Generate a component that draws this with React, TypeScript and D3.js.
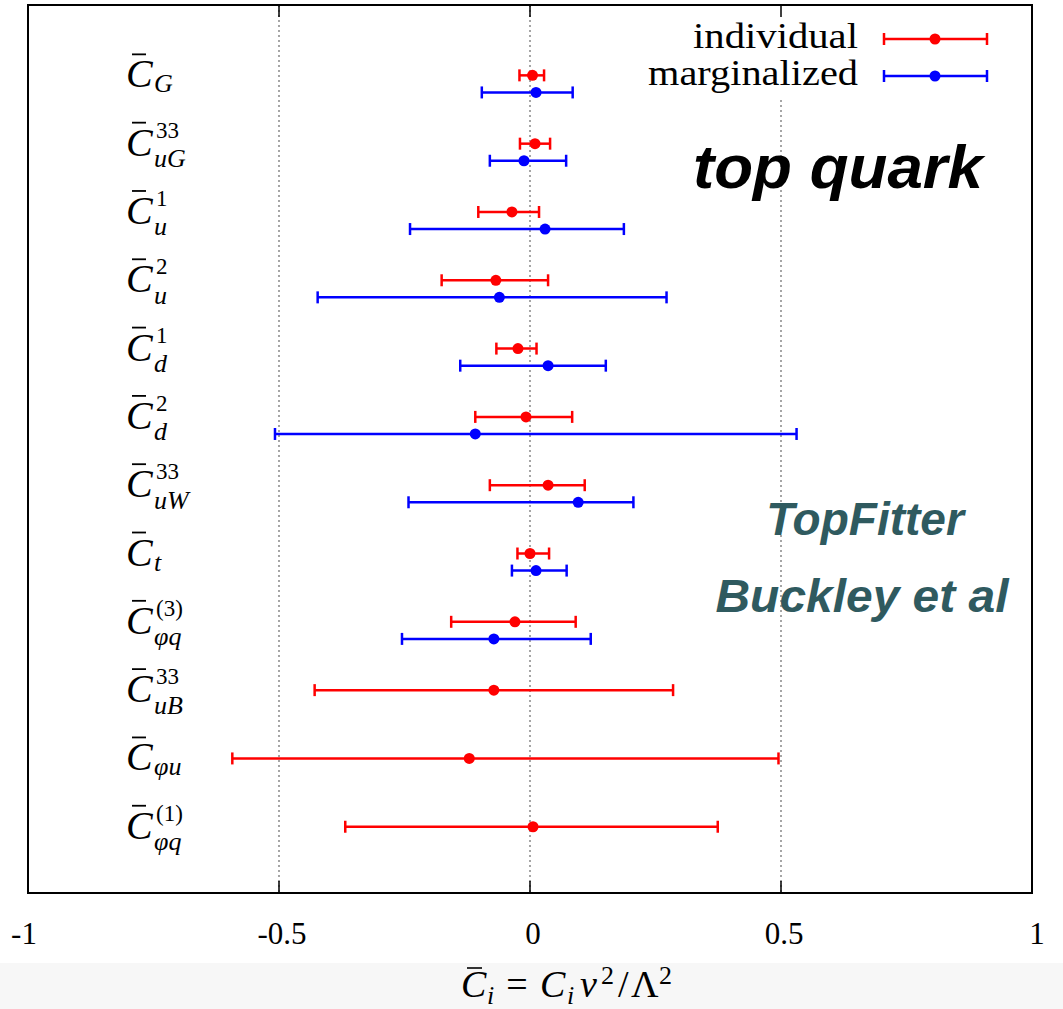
import React from "react";
import * as d3 from "d3";

const W = 1063;
const H = 1009;

// coefficient labels (top to bottom)
const labelSub = ["G", "uG", "u", "u", "d", "d", "uW", "t", "φq", "uB", "φu", "φq"];
const labelSup = ["", "33", "1", "2", "1", "2", "33", "", "(3)", "33", "", "(1)"];

// individual fits
const indivCenter = [0.005, 0.01, -0.036, -0.068, -0.024, -0.008, 0.036, 0.0, -0.03, -0.072, -0.121, 0.006];
const indivLow = [-0.021, -0.02, -0.103, -0.176, -0.067, -0.109, -0.08, -0.025, -0.157, -0.429, -0.593, -0.368];
const indivHigh = [0.028, 0.04, 0.018, 0.036, 0.013, 0.084, 0.109, 0.038, 0.091, 0.285, 0.495, 0.374];

// marginalized fits (only first 9 coefficients)
const margCenter = [0.012, -0.012, 0.03, -0.061, 0.036, -0.109, 0.096, 0.012, -0.072];
const margLow = [-0.096, -0.08, -0.239, -0.423, -0.139, -0.508, -0.242, -0.036, -0.255];
const margHigh = [0.085, 0.072, 0.187, 0.272, 0.151, 0.531, 0.206, 0.073, 0.121];

const xTicks = [-1, -0.5, 0, 0.5, 1];
const xTickLabels = ["-1", "-0.5", "0", "0.5", "1"];
const gridValues = [-0.5, 0, 0.5];

const RED = "#ff0000";
const BLUE = "#0000ff";
const TEAL = "#2f5a5f";
const SERIF = "'Liberation Serif', 'DejaVu Serif', serif";
const SANS = "'Liberation Sans', Arial, sans-serif";

const left = 28, right = 1032, top = 5, bottom = 893;

export default function App() {
  const x = d3.scaleLinear().domain([-1, 1]).range([left, right]);
  const y = d3.scaleLinear().domain([-0.97, 12.03]).range([bottom, top]);
  const rowY = (i: number, series: number) => y(11 - i - series * 0.25);

  const errorBar = (c: number, lo: number, hi: number, yy: number, color: string, key: string) => (
    <g key={key}>
      <line x1={x(lo)} x2={x(hi)} y1={yy} y2={yy} stroke={color} strokeWidth={2.5} />
      <line x1={x(lo)} x2={x(lo)} y1={yy - 6} y2={yy + 6} stroke={color} strokeWidth={2.5} />
      <line x1={x(hi)} x2={x(hi)} y1={yy - 6} y2={yy + 6} stroke={color} strokeWidth={2.5} />
      <circle cx={x(c)} cy={yy} r={5.5} fill={color} />
    </g>
  );

  return (
    <svg width={W} height={H} style={{ position: "absolute", left: 0, top: 0, display: "block" }}>
      <rect x={0} y={0} width={W} height={H} fill="#ffffff" />
      <rect x={0} y={963} width={W} height={H - 963} fill="#f7f7f7" />

      {/* grid lines */}
      {gridValues.map((v) => (
        <line key={"g" + v} x1={x(v)} x2={x(v)} y1={top} y2={bottom} stroke="#888" strokeWidth={1.5} strokeDasharray="2,3" />
      ))}

      {/* key background */}
      <rect x={640} y={top + 1} width={right - 641} height={92} fill="#ffffff" />

      {/* ticks */}
      {xTicks.map((v) => (
        <g key={"t" + v}>
          <line x1={x(v)} x2={x(v)} y1={bottom} y2={bottom - 12} stroke="#000" strokeWidth={1.5} />
          <line x1={x(v)} x2={x(v)} y1={top} y2={top + 12} stroke="#000" strokeWidth={1.5} />
        </g>
      ))}

      {/* frame */}
      <rect x={left} y={top} width={right - left} height={bottom - top} fill="none" stroke="#000" strokeWidth={2} />

      {/* tick labels */}
      {xTicks.map((v, i) => (
        <text key={"tl" + v} x={x(v) + (v === -1 ? -4 : v === 1 ? 5 : 3)} y={944} fontFamily={SERIF} fontSize={31} textAnchor="middle" fill="#000">
          {xTickLabels[i]}
        </text>
      ))}

      {/* axis title: C̄_i = C_i v^2 / Λ^2 */}
      <g fontFamily={SERIF} fill="#000">
        <text x={461} y={997} fontSize={38} fontStyle="italic">C</text>
        <line x1={467} x2={482} y1={968} y2={968} stroke="#000" strokeWidth={1.6} />
        <text x={487} y={1004} fontSize={26} fontStyle="italic">i</text>
        <text x={517} y={997} fontSize={38} textAnchor="middle">=</text>
        <text x={540} y={997} fontSize={38} fontStyle="italic">C</text>
        <text x={567} y={1004} fontSize={26} fontStyle="italic">i</text>
        <text x={580} y={997} fontSize={38} fontStyle="italic">v</text>
        <text x={601} y={984} fontSize={26}>2</text>
        <text x={618} y={997} fontSize={38}>/</text>
        <text x={631} y={997} fontSize={38}>Λ</text>
        <text x={659} y={984} fontSize={26}>2</text>
      </g>

      {/* left labels */}
      {labelSub.map((sub, i) => {
        const ry = rowY(i, 0);
        const sup = labelSup[i];
        return (
          <g key={"lab" + i} fontFamily={SERIF} fill="#000">
            <text x={126} y={ry + 12} fontSize={40} fontStyle="italic">C</text>
            <line x1={132} x2={146} y1={ry - 21} y2={ry - 21} stroke="#000" strokeWidth={1.8} />
            {sup && (
              <text x={156} y={ry - 6} fontSize={23}>{sup}</text>
            )}
            <text x={154} y={ry + (sup ? 23.5 : 17)} fontSize={26} fontStyle="italic">{sub}</text>
          </g>
        );
      })}

      {/* error bars */}
      {indivCenter.map((c, i) => errorBar(c, indivLow[i], indivHigh[i], rowY(i, 0), RED, "r" + i))}
      {margCenter.map((c, i) => errorBar(c, margLow[i], margHigh[i], rowY(i, 1), BLUE, "b" + i))}

      {/* legend */}
      <g fontFamily={SERIF} fontSize={36} fill="#000">
        <text x={858} y={48} textAnchor="end" textLength={165} lengthAdjust="spacingAndGlyphs">individual</text>
        <text x={858} y={85} textAnchor="end" textLength={210} lengthAdjust="spacingAndGlyphs">marginalized</text>
      </g>
      {[
        { yy: 39, color: RED },
        { yy: 76, color: BLUE },
      ].map((l) => (
        <g key={"leg" + l.yy}>
          <line x1={884} x2={987} y1={l.yy} y2={l.yy} stroke={l.color} strokeWidth={2.5} />
          <line x1={884} x2={884} y1={l.yy - 6} y2={l.yy + 6} stroke={l.color} strokeWidth={2.5} />
          <line x1={987} x2={987} y1={l.yy - 6} y2={l.yy + 6} stroke={l.color} strokeWidth={2.5} />
          <circle cx={935} cy={l.yy} r={5.5} fill={l.color} />
        </g>
      ))}

      {/* annotations */}
      <text x={983} y={188} textAnchor="end" fontFamily={SANS} fontWeight="bold" fontStyle="italic" fontSize={62} fill="#000" textLength={290} lengthAdjust="spacingAndGlyphs">top quark</text>
      <text x={865} y={535} textAnchor="middle" fontFamily={SANS} fontWeight="bold" fontStyle="italic" fontSize={46} fill={TEAL}>TopFitter</text>
      <text x={862} y={612} textAnchor="middle" fontFamily={SANS} fontWeight="bold" fontStyle="italic" fontSize={46} fill={TEAL} textLength={293} lengthAdjust="spacingAndGlyphs">Buckley et al</text>
    </svg>
  );
}
